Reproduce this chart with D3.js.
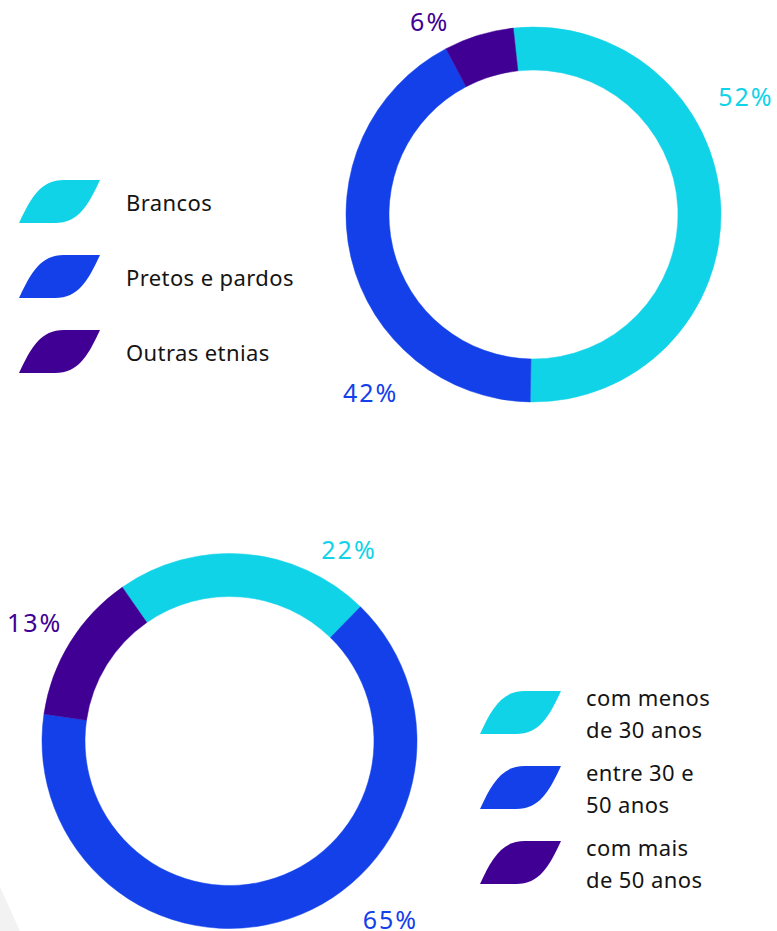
<!DOCTYPE html>
<html>
<head>
<meta charset="utf-8">
<script src="https://cdn.jsdelivr.net/npm/d3@7"></script>
<style>
  html, body { margin: 0; padding: 0; background: #fff; }
  svg { display: block; }
</style>
</head>
<body>
<div class="canvas"></div>
<script>
// data
const raceLabels = ['Brancos', 'Pretos e pardos', 'Outras etnias'];
const raceValues = [52, 42, 6];

const ageLabels = [['com menos', 'de 30 anos'], ['entre 30 e', '50 anos'], ['com mais', 'de 50 anos']];
const ageValues = [22, 65, 13];

const colors = ['#11d3e8', '#1340e9', '#400094'];

const dims = {width: 777, height: 931};

const svg = d3.select('.canvas')
    .append('svg')
    .attr('width', dims.width)
    .attr('height', dims.height);

// faint corner decoration
svg.append('path')
    .attr('d', 'M0,887 L20,931 L0,931 Z')
    .attr('fill', '#f2f2f2');

const arcPath = d3.arc()
    .innerRadius(144.5)
    .outerRadius(187.5);

// leaf shaped legend icon, 81 x 43
const leaf = 'M0,43 C12,17 22,0 45,0 L81,0 C69,26 59,43 36,43 Z';

const drawDonut = (values, opts) => {
    const pie = d3.pie()
        .sort(null)
        .value(d => d)
        .startAngle(opts.start)
        .endAngle(opts.start + 2 * Math.PI);

    const graph = svg.append('g')
        .attr('transform', `translate(${opts.cx}, ${opts.cy})`);

    graph.selectAll('path')
        .data(pie(values))
        .enter()
        .append('path')
        .attr('d', arcPath)
        .attr('fill', (d, i) => colors[i])
        .attr('stroke', (d, i) => colors[i])
        .attr('stroke-width', 0.5);

    // percentage labels, placed by polar offset from the center
    graph.selectAll('text')
        .data(values)
        .enter()
        .append('text')
        .attr('x', (d, i) => opts.labelR[i] * Math.sin(opts.labelAng[i] * Math.PI / 180) + 1)
        .attr('y', (d, i) => -opts.labelR[i] * Math.cos(opts.labelAng[i] * Math.PI / 180))
        .attr('text-anchor', 'middle')
        .attr('font-family', '"Noto Sans", sans-serif')
        .attr('font-size', 25)
        .attr('letter-spacing', 2)
        .attr('fill', (d, i) => colors[i])
        .text(d => `${d}%`);
};

drawDonut(raceValues, {
    cx: 533.5, cy: 214.5,
    start: -6.2 * Math.PI / 180,
    labelAng: [62.9, 221.2, -29.8],
    labelR: [237.5, 248.7, 211]
});

drawDonut(ageValues, {
    cx: 229.5, cy: 741,
    start: -34.9 * Math.PI / 180,
    labelAng: [33, 139.6, -61],
    labelR: [217.6, 246.6, 224]
});

// legends
const legendFont = '"Noto Sans", sans-serif';

const raceLegend = svg.append('g')
    .attr('transform', 'translate(19, 180)');

const raceItems = raceLegend.selectAll('g')
    .data(raceLabels)
    .enter()
    .append('g')
    .attr('transform', (d, i) => `translate(0, ${i * 75})`);

raceItems.append('path')
    .attr('d', leaf)
    .attr('fill', (d, i) => colors[i]);

raceItems.append('text')
    .attr('x', 107)
    .attr('y', 30.5)
    .attr('font-family', legendFont)
    .attr('font-size', 22)
    .attr('letter-spacing', 0.4)
    .attr('fill', '#141414')
    .text(d => d);

const ageLegend = svg.append('g')
    .attr('transform', 'translate(480, 691)');

const ageItems = ageLegend.selectAll('g')
    .data(ageLabels)
    .enter()
    .append('g')
    .attr('transform', (d, i) => `translate(0, ${i * 75})`);

ageItems.append('path')
    .attr('d', leaf)
    .attr('fill', (d, i) => colors[i]);

ageItems.append('text')
    .attr('font-family', legendFont)
    .attr('font-size', 22)
    .attr('letter-spacing', 0.4)
    .attr('fill', '#141414')
    .selectAll('tspan')
    .data(d => d)
    .enter()
    .append('tspan')
    .attr('x', 106)
    .attr('y', (d, i) => 15 + i * 32)
    .text(d => d);
</script>
</body>
</html>
